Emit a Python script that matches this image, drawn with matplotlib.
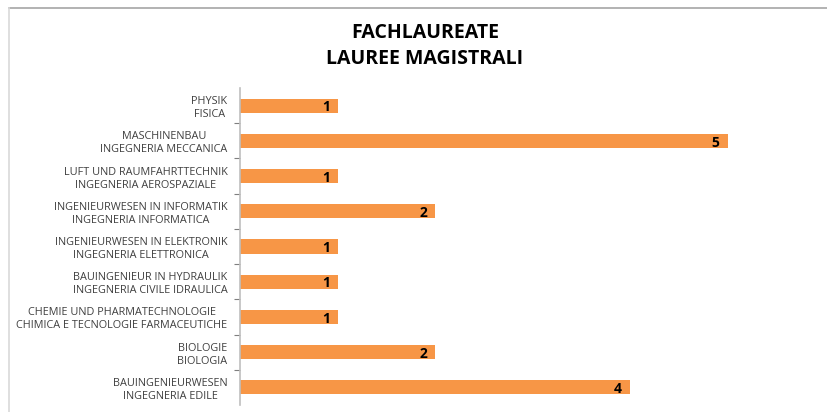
import numpy as np
import matplotlib.pyplot as plt
from matplotlib.lines import Line2D

# categories top to bottom
labels = [
    "PHYSIK\nFISICA",
    "MASCHINENBAU\nINGEGNERIA MECCANICA",
    "LUFT UND RAUMFAHRTTECHNIK\nINGEGNERIA AEROSPAZIALE",
    "INGENIEURWESEN IN INFORMATIK\nINGEGNERIA INFORMATICA",
    "INGENIEURWESEN IN ELEKTRONIK\nINGEGNERIA ELETTRONICA",
    "BAUINGENIEUR IN HYDRAULIK\nINGEGNERIA CIVILE IDRAULICA",
    "CHEMIE UND PHARMATECHNOLOGIE\nCHIMICA E TECNOLOGIE FARMACEUTICHE",
    "BIOLOGIE\nBIOLOGIA",
    "BAUINGENIEURWESEN\nINGEGNERIA EDILE",
]
values = [1, 5, 1, 2, 1, 1, 1, 2, 4]
title = "FACHLAUREATE\nLAUREE MAGISTRALI"

W, H = 827, 412
fig = plt.figure(figsize=(W / 100, H / 100), dpi=100)
ax = fig.add_axes([240 / W, 1 - 405 / H, 585 / W, (405 - 88) / H])

y = np.arange(len(labels))
bars = ax.barh(y, values, height=0.4, color="#F79646")
ax.set_ylim(len(labels) - 0.5, -0.5)
ax.set_xlim(0, 6)

for b, v in zip(bars, values):
    ax.text(b.get_width() - 0.08, b.get_y() + b.get_height() / 2 + 0.05, str(v),
            ha="right", va="center", fontsize=10, fontweight="bold",
            family="Open Sans", color="black")

ax.set_yticks(y)
ax.set_yticklabels(labels, fontsize=7.8, family="Open Sans", color="#404040",
                   linespacing=1.25, multialignment="center")
ax.set_yticks(np.arange(0.5, len(labels) - 1, 1), minor=True)
ax.tick_params(axis="y", which="major", length=0, pad=9)
ax.tick_params(axis="y", which="minor", length=4, color="#7F7F7F", width=0.8)
ax.set_xticks([])
for s in ["top", "right", "bottom"]:
    ax.spines[s].set_visible(False)
ax.spines["left"].set_color("#BFBFBF")
ax.spines["left"].set_linewidth(1.2)

fig.text(425 / W, 1 - 46 / H, title, ha="center", va="center", fontsize=14,
         fontweight="bold", family="Open Sans", color="black", linespacing=1.4)

# chart frame
fig.add_artist(Line2D([9 / W, 1], [1 - 8 / H, 1 - 8 / H], color="#A6A6A6", lw=1.2))
fig.add_artist(Line2D([9 / W, 9 / W], [0, 1 - 8 / H], color="#D9D9D9", lw=1.2))

fig.savefig("out.png", dpi=100)
